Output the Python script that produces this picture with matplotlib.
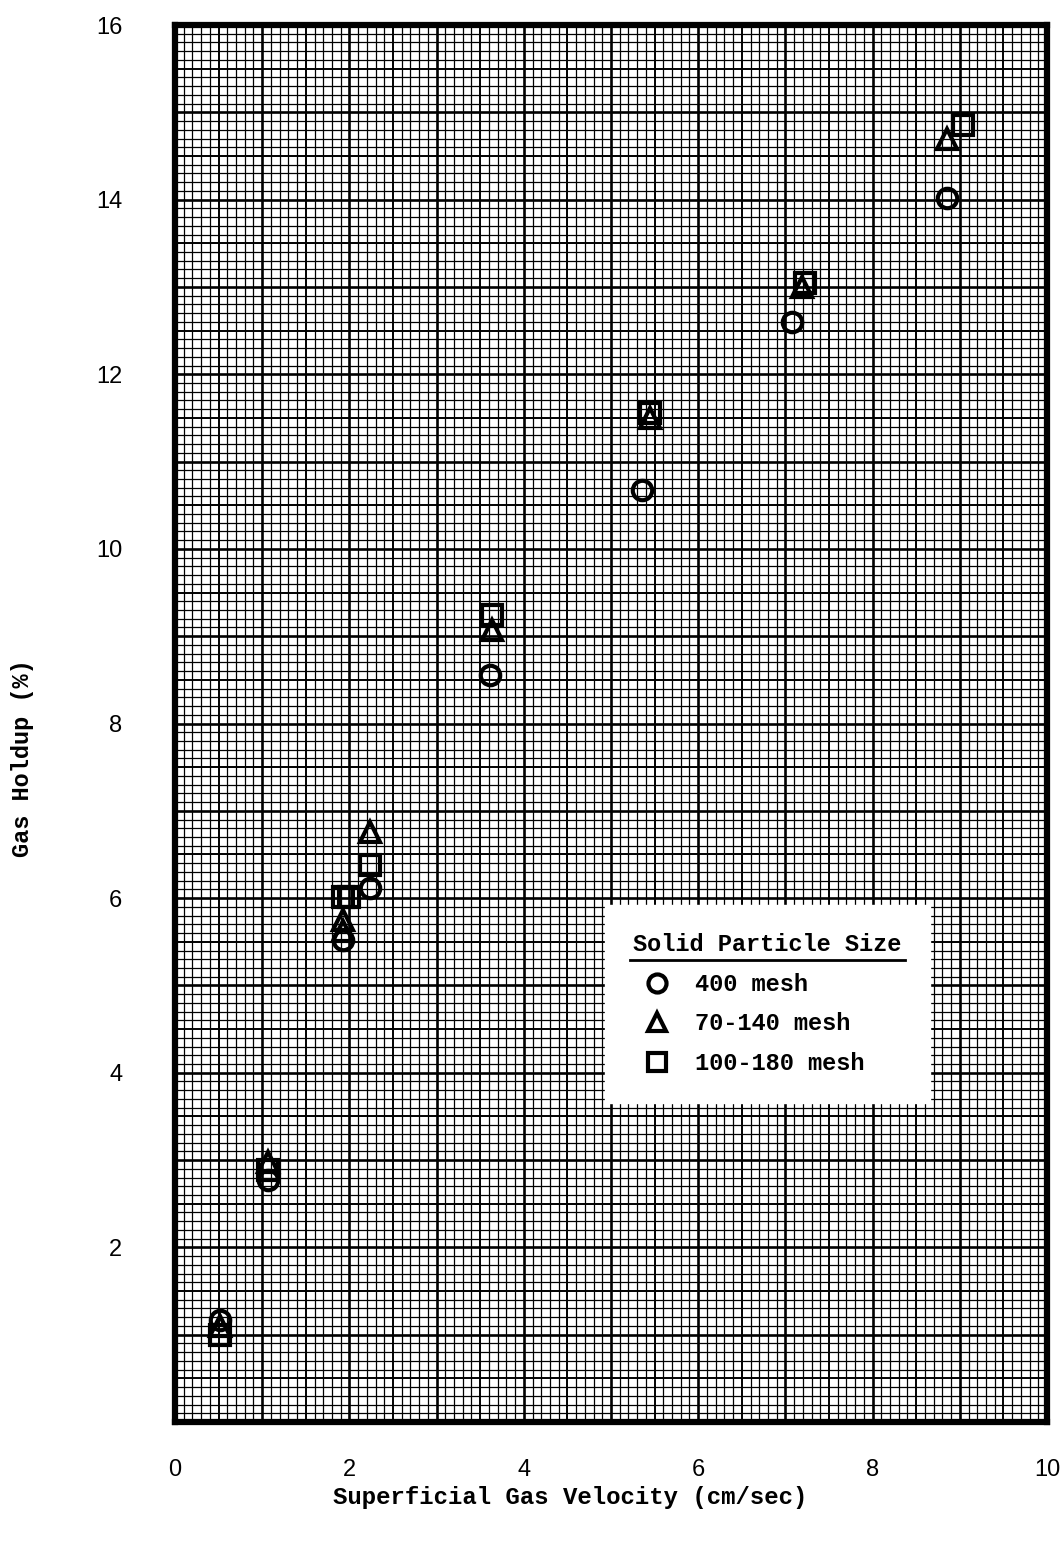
import matplotlib
matplotlib.use("Agg")
import matplotlib.pyplot as plt
import numpy as np
from matplotlib.lines import Line2D

# ---- data ----
x_400 = [0.52, 1.07, 1.93, 2.24, 3.61, 5.36, 7.08, 8.85]
y_400 = [1.17, 2.77, 5.52, 6.12, 8.56, 10.68, 12.60, 14.02]

x_70 = [0.52, 1.07, 1.93, 1.93, 2.24, 3.64, 5.45, 7.19, 8.85]
y_70 = [1.10, 2.98, 5.62, 5.75, 6.76, 9.07, 11.50, 13.00, 14.69]

x_100 = [0.52, 1.07, 1.93, 2.00, 2.24, 3.64, 5.45, 7.22, 9.04]
y_100 = [1.00, 2.89, 6.01, 6.01, 6.38, 9.24, 11.56, 13.05, 14.86]

series_labels = ["400 mesh", "70-140 mesh", "100-180 mesh"]
legend_title = "Solid Particle Size"
xticks = [0, 2, 4, 6, 8, 10]
yticks = [2, 4, 6, 8, 10, 12, 14, 16]

W, H = 1061, 1542
fig = plt.figure(figsize=(W / 100, H / 100), dpi=100)
fig.patch.set_facecolor("white")
ax = fig.add_axes([175 / W, 1 - 1422 / H, (1047 - 175) / W, (1422 - 25) / H])
ax.set_xlim(0, 10)
ax.set_ylim(0, 16)

# graph-paper grid
for v in np.arange(0.1, 10, 0.1):
    r = round(v * 10)
    lw = 1.9 if r % 10 == 0 else (1.4 if r % 5 == 0 else 0.9)
    ax.axvline(v, color="black", lw=lw, zorder=0)
for v in np.arange(0.1, 16, 0.1):
    r = round(v * 10)
    lw = 1.9 if r % 10 == 0 else (1.4 if r % 5 == 0 else 0.9)
    ax.axhline(v, color="black", lw=lw, zorder=0)

for s in ax.spines.values():
    s.set_linewidth(4.5)
    s.set_color("black")

mk = dict(linestyle="none", markerfacecolor="none", markeredgecolor="black",
          markeredgewidth=3.0, markersize=14, zorder=5)
ax.plot(x_400, y_400, marker="o", label=series_labels[0], **mk)
ax.plot(x_70, y_70, marker="^", label=series_labels[1], **mk)
ax.plot(x_100, y_100, marker="s", label=series_labels[2], **mk)

ax.set_xticks(xticks)
ax.set_yticks(yticks)
ax.tick_params(length=0)
ax.tick_params(axis="x", pad=27)
ax.tick_params(axis="y", pad=38)
for t in ax.get_xticklabels() + ax.get_yticklabels():
    t.set_fontfamily("Liberation Sans")
    t.set_fontsize(17)

mono = "Liberation Mono"
ax.set_xlabel("Superficial Gas Velocity (cm/sec)", fontfamily=mono,
              fontsize=17.3, fontweight="bold")
ax.set_ylabel("Gas Holdup (%)", fontfamily=mono, fontsize=17,
              fontweight="bold")
ax.xaxis.set_label_coords(0.453, -0.0537)
ax.xaxis.label.set_va("center")
ax.yaxis.set_label_coords(-0.175, 0.475)
ax.yaxis.label.set_va("center")

leg = ax.legend(loc="upper left", bbox_to_anchor=(0.493, 0.370),
                title=legend_title, alignment="left",
                prop={"family": mono, "size": 17, "weight": "bold"},
                title_fontproperties={"family": mono, "size": 17, "weight": "bold"},
                frameon=True, fancybox=False, framealpha=1.0,
                facecolor="white", edgecolor="white",
                borderpad=1.2, labelspacing=0.7, handlelength=2.0,
                handletextpad=0.6, borderaxespad=0.0)
leg.set_zorder(10)
for h in leg.legend_handles:
    h.set_markersize(13)

fig.canvas.draw()
bb = leg.get_title().get_window_extent().transformed(fig.transFigure.inverted())
fig.add_artist(Line2D([bb.x0 - 0.003, bb.x1 + 0.003], [bb.y0 - 0.002, bb.y0 - 0.002],
                      transform=fig.transFigure, color="black", lw=2.0, zorder=20))

fig.savefig("out.png", dpi=100, facecolor="white")
